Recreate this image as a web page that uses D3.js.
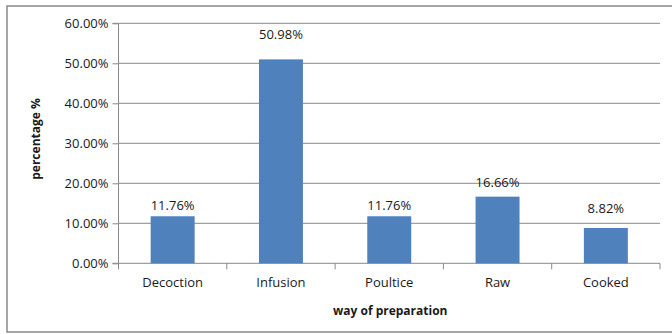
<!DOCTYPE html>
<html>
<head>
<meta charset="utf-8">
<script src="https://cdn.jsdelivr.net/npm/d3@7"></script>
<style>
  html, body { margin: 0; padding: 0; background: #fff; }
  svg { display: block; font-family: "Open Sans", "DejaVu Sans", sans-serif; }
</style>
</head>
<body>
<svg id="chart" width="672" height="334"></svg>
<script>
// Ways of preparing the plants and their share of uses (%)
const categories = ["Decoction", "Infusion", "Poultice", "Raw", "Cooked"];
const percentages = [11.76, 50.98, 11.76, 16.66, 8.82];
const yTicks = [0, 10, 20, 30, 40, 50, 60];

// How far each value label sits above its bar (px)
const labelLift = [6, 20, 6, 10, 15];

const svg = d3.select("#chart");
const W = 672, H = 334;
const margin = { left: 118.5, right: 12, top: 23.3, bottom: 70.7 };
const plotW = W - margin.left - margin.right;
const plotH = H - margin.top - margin.bottom;
const gridColor = "#898989";
const textColor = "#1a1a1a";

// Chart frame
svg.append("rect")
  .attr("x", 7).attr("y", 6)
  .attr("width", W + 10).attr("height", 326)
  .attr("fill", "#fff")
  .attr("stroke", gridColor)
  .attr("stroke-width", 1.5);

const g = svg.append("g").attr("transform", `translate(${margin.left},${margin.top})`);

const x = d3.scaleBand().domain(categories).range([0, plotW]).paddingInner(0.594).paddingOuter(0.297);
const xTicks = d3.scaleBand().domain(categories).range([0, plotW]);
const y = d3.scaleLinear().domain([0, 60]).range([plotH, 0]);

// Horizontal gridlines
g.append("g")
  .selectAll("line")
  .data(yTicks.filter(t => t > 0))
  .join("line")
  .attr("x1", 0).attr("x2", plotW)
  .attr("y1", d => y(d)).attr("y2", d => y(d))
  .attr("stroke", gridColor).attr("stroke-width", 1);

// Y axis
const yAxis = g.append("g")
  .call(d3.axisLeft(y).tickValues(yTicks).tickSize(6).tickPadding(4)
    .tickFormat(d => d.toFixed(2) + "%"));
yAxis.select(".domain").attr("stroke", gridColor).attr("d", `M-6,${plotH}H0V0H-6`);
yAxis.selectAll(".tick line").attr("stroke", gridColor);
yAxis.selectAll(".tick text")
  .attr("fill", textColor)
  .style("font-size", "13px")
  .style("font-family", "'Open Sans', sans-serif");

// X axis with ticks at category boundaries
const xAxisG = g.append("g").attr("transform", `translate(0,${plotH})`);
xAxisG.append("line")
  .attr("x1", 0).attr("x2", plotW)
  .attr("stroke", gridColor).attr("stroke-width", 1);
const boundaries = categories.map(c => xTicks(c)).concat([plotW]);
xAxisG.selectAll("line.tk")
  .data(boundaries)
  .join("line")
  .attr("class", "tk")
  .attr("x1", d => d).attr("x2", d => d)
  .attr("y1", 0).attr("y2", 6)
  .attr("stroke", gridColor);
xAxisG.selectAll("text")
  .data(categories)
  .join("text")
  .attr("x", d => xTicks(d) + xTicks.bandwidth() / 2)
  .attr("y", 24)
  .attr("text-anchor", "middle")
  .attr("fill", textColor)
  .style("font-size", "13px")
  .text(d => d);

// Bars
g.selectAll("rect.bar")
  .data(categories)
  .join("rect")
  .attr("class", "bar")
  .attr("x", d => x(d))
  .attr("width", x.bandwidth())
  .attr("y", (d, i) => y(percentages[i]))
  .attr("height", (d, i) => plotH - y(percentages[i]))
  .attr("fill", "#4f81bd");

// Value labels
g.selectAll("text.val")
  .data(categories)
  .join("text")
  .attr("class", "val")
  .attr("x", d => x(d) + x.bandwidth() / 2)
  .attr("y", (d, i) => y(percentages[i]) - labelLift[i])
  .attr("text-anchor", "middle")
  .attr("fill", textColor)
  .style("font-size", "13px")
  .text((d, i) => percentages[i].toFixed(2) + "%");

// Axis titles
svg.append("text")
  .attr("x", margin.left + plotW / 2 + 1)
  .attr("y", 315)
  .attr("text-anchor", "middle")
  .attr("fill", textColor)
  .style("font-size", "12px")
  .style("font-weight", "bold")
  .text("way of preparation");

svg.append("text")
  .attr("transform", "translate(40,139) rotate(-90)")
  .attr("text-anchor", "middle")
  .attr("fill", textColor)
  .style("font-size", "12px")
  .style("font-weight", "bold")
  .text("percentage %");
</script>
</body>
</html>
